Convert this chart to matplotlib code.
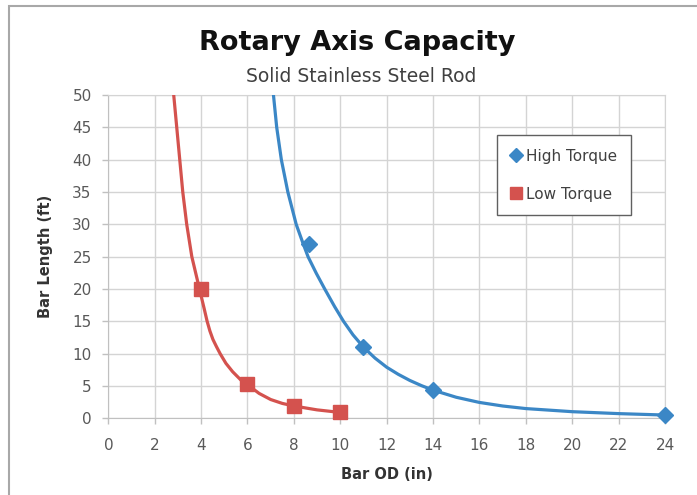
import matplotlib
matplotlib.use('Agg')
import matplotlib.pyplot as plt
from matplotlib.patches import Rectangle

# measured points
high_x = [8.66, 10.96, 14, 24]
high_y = [26.9, 11.05, 4.4, 0.45]
low_x = [4, 6, 8, 10]
low_y = [20, 5.3, 1.9, 0.9]

# trend lines
high_curve_x = [7.12, 7.26, 7.46, 7.74, 8.10, 8.38, 8.61, 8.97, 9.33, 9.76, 10.14, 10.55,
                11.0, 11.5, 12, 12.5, 13, 13.5, 14, 15, 16, 17, 18, 20, 22, 24]
high_curve_y = [50, 45, 40, 35, 30, 27.2, 25, 22.4, 20, 17.25, 15, 12.9,
                11.0, 9.3, 7.9, 6.8, 5.85, 5.05, 4.35, 3.25, 2.45, 1.9, 1.5, 1.02, 0.72, 0.5]
low_curve_x = [2.82, 2.95, 3.08, 3.21, 3.38, 3.60, 3.93, 4.13, 4.26, 4.38, 4.51, 4.66,
               4.82, 5.07, 5.36, 5.72, 6.0, 6.5, 7, 7.5, 8, 9, 10]
low_curve_y = [50, 45, 40, 35, 30, 25, 20, 17, 15, 13.5, 12.2, 11.1,
               10, 8.5, 7.2, 5.9, 5.2, 3.85, 2.9, 2.3, 1.9, 1.3, 0.9]

xticks = list(range(0, 25, 2))
yticks = list(range(0, 51, 5))

blue = '#3b87c6'
red = '#d4524e'
grid_c = '#d4d4d4'
text_c = '#595959'

fig = plt.figure(figsize=(6.97, 4.95), dpi=100)
ax = fig.add_axes([0.1554, 0.155, 0.7987, 0.653])

ax.plot(high_curve_x, high_curve_y, color=blue, lw=2.3, solid_joinstyle='round',
        solid_capstyle='round', zorder=3)
ax.plot(low_curve_x, low_curve_y, color=red, lw=2.3, solid_joinstyle='round',
        solid_capstyle='round', zorder=3)
ax.plot(high_x, high_y, 'D', color=blue, ms=8.5, ls='none', label='High Torque', zorder=4, clip_on=False)
ax.plot(low_x, low_y, 's', color=red, ms=10, ls='none', label='Low Torque', zorder=4, clip_on=False)

ax.set_xlim(0, 24)
ax.set_ylim(0, 50)
ax.set_xticks(xticks)
ax.set_yticks(yticks)
ax.grid(True, color=grid_c, lw=1.0)
ax.set_axisbelow(True)
for s in ['top', 'right']:
    ax.spines[s].set_color(grid_c)
for s in ['left', 'bottom']:
    ax.spines[s].set_color('#c0c0c0')
ax.tick_params(colors='#c0c0c0', labelcolor=text_c, labelsize=11, length=4, width=1)
ax.tick_params(axis='x', pad=10)
ax.tick_params(axis='y', pad=8)

ax.set_xlabel('Bar OD (in)', fontsize=10.5, fontweight='bold', color='#333333', labelpad=10)
ax.set_ylabel('Bar Length (ft)', fontsize=10.5, fontweight='bold', color='#333333', labelpad=14)

leg = ax.legend(loc='upper left', bbox_to_anchor=(0.7126, 0.7273), bbox_transform=fig.transFigure,
                borderaxespad=0, fontsize=11, labelspacing=1.5, handlelength=0.7, handletextpad=0.3,
                borderpad=0.9, fancybox=False, framealpha=1, edgecolor='#606060', markerscale=0.8)
leg.get_frame().set_linewidth(1.0)
for t in leg.get_texts():
    t.set_color('#404040')

fig.text(0.513, 1 - 43 / 495, 'Rotary Axis Capacity', ha='center', va='center',
         fontsize=19.5, fontweight='bold', color='#111111')
fig.text(0.518, 1 - 77 / 495, 'Solid Stainless Steel Rod', ha='center', va='center',
         fontsize=13.5, color='#404040')

fig.patches.append(Rectangle((9 / 697, -0.05), 1.1, 1 - 5.5 / 495 + 0.05, transform=fig.transFigure,
                             fill=False, edgecolor='#a8a8a8', lw=1.5))

fig.savefig('out.png', dpi=100)
